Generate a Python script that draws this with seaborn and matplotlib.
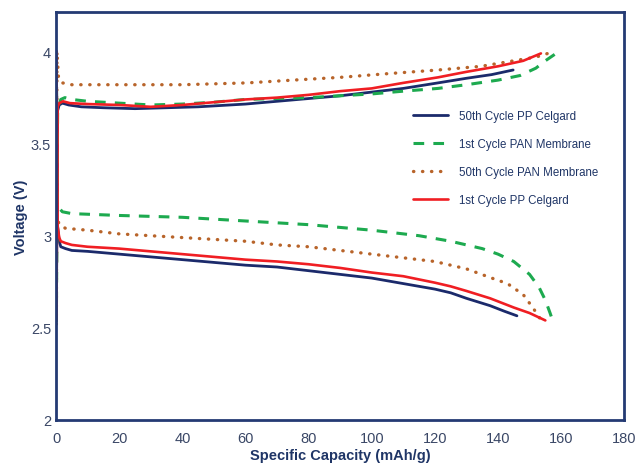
import numpy as np
import pandas as pd
import matplotlib
matplotlib.use("Agg")
import matplotlib.pyplot as plt
import seaborn as sns
from matplotlib.ticker import MultipleLocator

# charge (upper) and discharge (lower) curves, capacity in mAh/g, voltage in V
pp50_chg_x = [0.1, 0.5, 1, 2, 4, 8, 15, 25, 35, 45, 55, 60, 70, 80, 90, 100, 110, 121, 130, 138, 144.8]
pp50_chg_v = [2.56, 3.68, 3.71, 3.72, 3.71, 3.70, 3.695, 3.69, 3.695, 3.70, 3.71, 3.715, 3.73, 3.745,
              3.76, 3.78, 3.80, 3.83, 3.855, 3.875, 3.90]
pp50_dis_x = [0.1, 0.5, 1, 1.5, 3, 5, 10, 20, 30, 40, 50, 60, 70, 80, 90, 100, 110, 120, 125, 130,
              137.5, 142, 146]
pp50_dis_v = [4.00, 3.05, 2.97, 2.94, 2.93, 2.92, 2.915, 2.90, 2.885, 2.87, 2.855, 2.84, 2.83, 2.81,
              2.79, 2.77, 2.74, 2.71, 2.69, 2.66, 2.62, 2.59, 2.565]

pan1_chg_x = [0.1, 0.5, 1.5, 2.8, 5, 10, 20, 30, 40, 50, 60, 70, 80, 90, 100, 110, 121, 130, 140,
              147, 152, 155, 158.4]
pan1_chg_v = [2.53, 3.68, 3.74, 3.75, 3.74, 3.73, 3.72, 3.71, 3.715, 3.725, 3.74, 3.745, 3.75, 3.76,
              3.77, 3.785, 3.80, 3.82, 3.845, 3.87, 3.91, 3.95, 3.99]
pan1_dis_x = [0.1, 0.3, 1, 2, 5, 20, 40, 60, 80, 100, 115, 125, 135, 140, 145, 150, 153, 155,
              156.5, 157.5]
pan1_dis_v = [4.00, 3.20, 3.15, 3.13, 3.12, 3.11, 3.10, 3.08, 3.06, 3.03, 3.00, 2.97, 2.93, 2.90,
              2.86, 2.79, 2.72, 2.65, 2.58, 2.53]

pan50_chg_x = [0.1, 0.3, 0.8, 2, 5, 20, 40, 60.6, 75, 90, 105, 121, 134.6, 145, 152, 155.8]
pan50_chg_v = [2.52, 4.00, 3.85, 3.83, 3.82, 3.82, 3.82, 3.83, 3.845, 3.86, 3.88, 3.90, 3.92, 3.95,
               3.97, 3.99]
pan50_dis_x = [0.1, 0.3, 1, 3, 10, 20, 30, 40, 50, 60, 70, 80, 90, 100, 110, 120, 130, 138, 143,
               148, 151, 153, 154]
pan50_dis_v = [4.00, 3.10, 3.06, 3.04, 3.03, 3.01, 3.00, 2.99, 2.98, 2.97, 2.95, 2.94, 2.92, 2.90,
               2.88, 2.86, 2.82, 2.77, 2.74, 2.68, 2.61, 2.56, 2.52]

pp1_chg_x = [0.1, 0.5, 1, 2.2, 4.4, 10, 20, 30, 40, 50, 60, 70, 80, 90, 100, 110, 121, 130, 140,
             148, 153.6]
pp1_chg_v = [2.54, 3.70, 3.72, 3.73, 3.72, 3.715, 3.71, 3.70, 3.71, 3.725, 3.74, 3.75, 3.765, 3.785,
             3.80, 3.83, 3.86, 3.89, 3.92, 3.95, 3.99]
pp1_dis_x = [0.1, 0.5, 1, 1.5, 3, 5, 10, 20, 30, 40, 50, 60, 70, 80, 90, 100, 110, 120, 125, 130,
             137.5, 145, 150, 155]
pp1_dis_v = [4.00, 3.05, 2.99, 2.97, 2.96, 2.95, 2.94, 2.93, 2.915, 2.90, 2.885, 2.87, 2.86, 2.845,
             2.825, 2.80, 2.78, 2.745, 2.725, 2.70, 2.66, 2.61, 2.58, 2.54]

labels = ["50th Cycle PP Celgard", "1st Cycle PAN Membrane",
          "50th Cycle PAN Membrane", "1st Cycle PP Celgard"]

series = [
    (labels[0], pp50_chg_x, pp50_chg_v, pp50_dis_x, pp50_dis_v),
    (labels[1], pan1_chg_x, pan1_chg_v, pan1_dis_x, pan1_dis_v),
    (labels[2], pan50_chg_x, pan50_chg_v, pan50_dis_x, pan50_dis_v),
    (labels[3], pp1_chg_x, pp1_chg_v, pp1_dis_x, pp1_dis_v),
]

styles = {
    labels[0]: dict(color="#1B2A6B", lw=2.0, ls="-"),
    labels[1]: dict(color="#1DAA4F", lw=2.2, ls=(0, (3.5, 3.0))),
    labels[2]: dict(color="#B8642A", lw=2.4, ls=(0, (0.1, 2.6)), dash_capstyle="round"),
    labels[3]: dict(color="#F01E23", lw=1.9, ls="-"),
}

sns.set_style("white")
plt.rcParams["font.family"] = ["Liberation Sans", "DejaVu Sans"]

fig = plt.figure(figsize=(6.37, 4.64), dpi=100)
ax = fig.add_axes([0.088, 0.093, 0.892, 0.879])

for name, cx, cv, dx, dv in series:
    st = styles[name]
    for i, (xs, vs) in enumerate([(dx, dv), (cx, cv)]):
        sns.lineplot(x=xs, y=vs, sort=False, estimator=None, ax=ax,
                     color=st["color"], linewidth=st["lw"], linestyle=st["ls"],
                     dash_capstyle=st.get("dash_capstyle", "butt"),
                     label=name if i == 0 else None)

ax.set_xlim(0, 180)
ax.set_ylim(2, 4.215)
ax.xaxis.set_major_locator(MultipleLocator(20))
ax.xaxis.set_minor_locator(MultipleLocator(10))
ax.yaxis.set_minor_locator(MultipleLocator(0.1))
ax.set_yticks([2, 2.5, 3, 3.5, 4])
ax.set_yticklabels(["2", "2.5", "3", "3.5", "4"])
ax.tick_params(which="both", direction="in", colors="#C8CCD8", labelcolor="#3A4766",
               labelsize=10.5)
ax.tick_params(which="major", length=3)
ax.tick_params(which="minor", length=2)
ax.tick_params(axis="x", pad=8)

for sp in ax.spines.values():
    sp.set_color("#243A73")
    sp.set_linewidth(2.0)

ax.set_xlabel("Specific Capacity (mAh/g)", fontsize=10.5, fontweight="bold",
              color="#1F3566", labelpad=2)
ax.set_ylabel("Voltage (V)", fontsize=10.5, fontweight="bold", color="#1F3566",
              labelpad=2)

leg = ax.legend(loc="upper left", bbox_to_anchor=(0.61, 0.785), frameon=False,
                fontsize=8.3, handlelength=3.0, labelspacing=1.38, handletextpad=1.0)
for t in leg.get_texts():
    t.set_color("#1F3566")

fig.savefig("out.png", dpi=100)
